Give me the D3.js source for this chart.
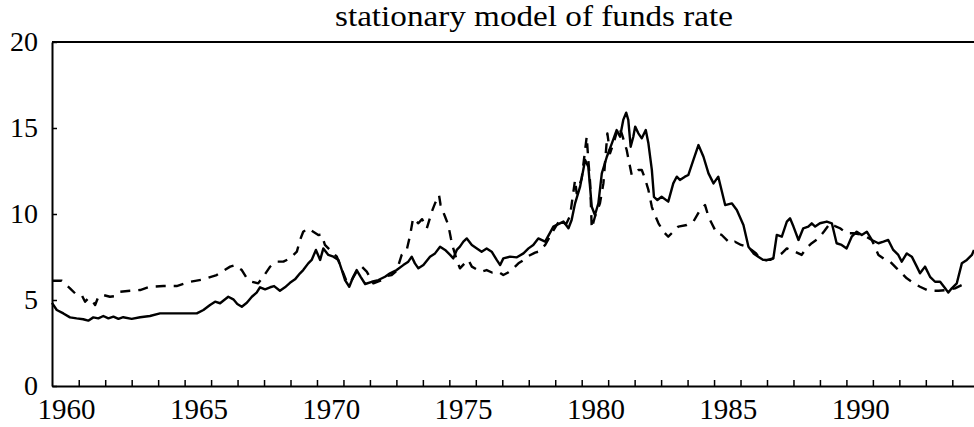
<!DOCTYPE html>
<html>
<head>
<meta charset="utf-8">
<script src="https://cdn.jsdelivr.net/npm/d3@7"></script>
<style>
  body { margin: 0; background: #fff; }
  svg { display: block; }
  svg text { font-family: "Liberation Serif", "Times New Roman", Times, serif; fill: #000; }
</style>
</head>
<body>
<div id="chart"></div>
<script>
const title = "stationary model of funds rate";
const yTicks = [0, 5, 10, 15, 20];
const xLabels = [1960, 1965, 1970, 1975, 1980, 1985, 1990];

// solid line
const actualYears = [1959.47, 1959.65, 1959.90, 1960.15, 1960.40, 1960.65, 1960.84, 1961.03, 1961.22, 1961.41,
  1961.60, 1961.79, 1961.98, 1962.16, 1962.48, 1962.80, 1963.17, 1963.55, 1963.93, 1964.43,
  1964.94, 1965.19, 1965.44, 1965.63, 1965.82, 1966.01, 1966.13, 1966.32, 1966.47, 1966.64,
  1966.83, 1967.02, 1967.20, 1967.33, 1967.52, 1967.71, 1967.86, 1968.08, 1968.27, 1968.46,
  1968.65, 1968.84, 1968.96, 1969.15, 1969.28, 1969.44, 1969.60, 1969.72, 1969.91, 1970.10,
  1970.29, 1970.42, 1970.54, 1970.70, 1970.85, 1970.98, 1971.13, 1971.30, 1971.55, 1971.80,
  1972.05, 1972.24, 1972.49, 1972.74, 1972.93, 1973.06, 1973.18, 1973.31, 1973.50, 1973.75,
  1973.94, 1974.13, 1974.32, 1974.51, 1974.63, 1974.76, 1974.88, 1975.01, 1975.14, 1975.33,
  1975.52, 1975.70, 1975.89, 1976.08, 1976.27, 1976.40, 1976.52, 1976.77, 1977.03, 1977.28,
  1977.47, 1977.65, 1977.84, 1978.10, 1978.41, 1978.79, 1978.98, 1979.10, 1979.23, 1979.42,
  1979.61, 1979.73, 1979.86, 1979.98, 1980.11, 1980.24, 1980.43, 1980.62, 1980.80, 1980.93,
  1981.05, 1981.16, 1981.24, 1981.33, 1981.43, 1981.50, 1981.62, 1981.75, 1981.90, 1982.00,
  1982.13, 1982.21, 1982.34, 1982.50, 1982.75, 1982.94, 1983.07, 1983.19, 1983.38, 1983.51,
  1983.70, 1983.89, 1984.08, 1984.27, 1984.46, 1984.64, 1984.90, 1985.15, 1985.34, 1985.59,
  1985.78, 1985.97, 1986.15, 1986.34, 1986.60, 1986.72, 1986.85, 1987.04, 1987.23, 1987.35,
  1987.48, 1987.67, 1987.85, 1988.04, 1988.17, 1988.30, 1988.48, 1988.74, 1988.93, 1989.11,
  1989.30, 1989.49, 1989.68, 1989.87, 1990.06, 1990.25, 1990.44, 1990.69, 1990.88, 1991.06,
  1991.25, 1991.44, 1991.57, 1991.76, 1991.95, 1992.14, 1992.26, 1992.45, 1992.64, 1992.83,
  1993.02, 1993.21, 1993.33, 1993.46, 1993.65, 1993.84, 1994.03, 1994.22, 1994.30];
const actualRate = [4.83, 4.42, 4.22, 3.99, 3.93, 3.88, 3.80, 3.99, 3.93, 4.07,
  3.93, 4.03, 3.90, 4.00, 3.90, 4.00, 4.07, 4.22, 4.22, 4.22,
  4.22, 4.42, 4.71, 4.90, 4.81, 5.04, 5.19, 5.04, 4.77, 4.61,
  4.84, 5.19, 5.43, 5.74, 5.62, 5.74, 5.81, 5.54, 5.74, 6.00,
  6.20, 6.55, 6.74, 7.13, 7.33, 7.91, 7.33, 8.00, 7.62, 7.52,
  7.33, 6.74, 6.16, 5.77, 6.35, 6.74, 6.35, 5.93, 6.06, 6.16,
  6.35, 6.55, 6.74, 7.03, 7.23, 7.52, 7.13, 6.84, 7.03, 7.52,
  7.71, 8.10, 7.91, 7.62, 7.42, 7.91, 8.10, 8.39, 8.58, 8.20,
  8.00, 7.81, 8.00, 7.81, 7.33, 7.03, 7.42, 7.52, 7.48, 7.71,
  8.00, 8.20, 8.58, 8.39, 9.27, 9.56, 9.17, 9.65, 10.62, 11.59,
  13.14, 12.75, 10.42, 9.94, 10.62, 12.36, 13.33, 14.11, 14.88, 14.49,
  15.47, 15.89, 15.47, 13.91, 14.49, 15.08, 14.69, 14.40, 14.88, 14.11,
  12.56, 11.00, 10.81, 11.00, 10.72, 11.78, 12.17, 11.98, 12.17, 12.27,
  13.14, 14.01, 13.33, 12.36, 11.78, 12.17, 10.52, 10.62, 10.23, 9.36,
  8.10, 7.71, 7.52, 7.33, 7.33, 7.42, 8.78, 8.68, 9.56, 9.75,
  9.27, 8.49, 9.17, 9.27, 9.46, 9.27, 9.46, 9.56, 9.46, 8.30,
  8.20, 8.00, 8.68, 8.97, 8.78, 8.97, 8.49, 8.30, 8.39, 8.49,
  7.91, 7.62, 7.23, 7.71, 7.52, 6.94, 6.55, 6.94, 6.35, 6.06,
  6.06, 5.68, 5.43, 5.68, 5.97, 7.13, 7.33, 7.62, 7.91];

// dashed line
const modelYears = [1959.47, 1959.84, 1960.15, 1960.34, 1960.59, 1960.72, 1960.84, 1960.97, 1961.10, 1961.22,
  1961.41, 1961.66, 1961.85, 1962.04, 1962.42, 1962.80, 1963.17, 1963.68, 1964.18, 1964.68,
  1965.19, 1965.69, 1966.20, 1966.38, 1966.64, 1966.83, 1967.02, 1967.26, 1967.45, 1967.71,
  1967.96, 1968.21, 1968.46, 1968.72, 1968.84, 1968.96, 1969.15, 1969.34, 1969.53, 1969.66,
  1969.78, 1969.97, 1970.23, 1970.35, 1970.48, 1970.62, 1970.77, 1970.96, 1971.17, 1971.36,
  1971.61, 1971.93, 1972.12, 1972.30, 1972.49, 1972.68, 1972.87, 1973.00, 1973.11, 1973.31,
  1973.45, 1973.63, 1973.82, 1973.94, 1974.09, 1974.15, 1974.32, 1974.44, 1974.54, 1974.63,
  1974.76, 1974.88, 1975.04, 1975.20, 1975.33, 1975.49, 1975.70, 1975.89, 1976.09, 1976.33,
  1976.52, 1976.70, 1976.90, 1977.09, 1977.26, 1977.47, 1977.72, 1977.84, 1978.10, 1978.28,
  1978.51, 1978.66, 1978.89, 1979.04, 1979.23, 1979.29, 1979.48, 1979.67, 1979.73, 1979.80,
  1979.86, 1979.98, 1980.17, 1980.30, 1980.45, 1980.55, 1980.68, 1980.87, 1980.99, 1981.18,
  1981.24, 1981.37, 1981.50, 1981.62, 1981.75, 1981.87, 1982.00, 1982.13, 1982.19, 1982.38,
  1982.57, 1982.75, 1982.88, 1983.13, 1983.45, 1983.70, 1983.95, 1984.14, 1984.27, 1984.39,
  1984.58, 1984.77, 1985.08, 1985.27, 1985.50, 1985.72, 1985.90, 1986.07, 1986.22, 1986.45,
  1986.67, 1986.82, 1987.04, 1987.23, 1987.39, 1987.54, 1987.79, 1987.96, 1988.17, 1988.42,
  1988.64, 1988.86, 1989.05, 1989.24, 1989.49, 1989.74, 1990.12, 1990.44, 1990.69, 1990.90,
  1991.13, 1991.38, 1991.54, 1991.76, 1991.95, 1992.26, 1992.58, 1992.96, 1993.27, 1993.58,
  1993.84, 1994.00];
const modelRate = [6.12, 6.12, 5.68, 5.39, 5.29, 4.90, 5.10, 5.00, 4.71, 5.19,
  5.29, 5.19, 5.23, 5.48, 5.54, 5.58, 5.77, 5.81, 5.81, 6.06,
  6.20, 6.45, 6.94, 7.03, 6.74, 6.26, 6.06, 5.97, 6.35, 6.94,
  7.23, 7.23, 7.42, 7.81, 8.49, 8.97, 9.17, 8.97, 8.78, 8.80,
  8.20, 7.91, 7.52, 7.03, 6.55, 6.00, 6.10, 6.60, 6.94, 6.65,
  5.97, 6.16, 6.40, 6.45, 6.70, 7.62, 7.91, 8.78, 9.75, 9.46,
  9.70, 9.17, 10.14, 10.62, 11.10, 10.52, 9.84, 9.36, 8.58, 8.00,
  7.33, 6.84, 7.10, 7.33, 6.94, 6.80, 6.65, 6.74, 6.60, 6.65,
  6.45, 6.60, 6.84, 7.13, 7.30, 7.56, 7.75, 7.81, 8.20, 8.70,
  9.30, 9.65, 9.40, 9.90, 11.98, 11.20, 12.07, 14.50, 13.14, 11.78,
  9.17, 9.84, 10.62, 11.78, 14.69, 13.53, 14.11, 15.08, 14.69, 13.72,
  13.24, 12.27, 12.36, 12.56, 12.56, 12.07, 11.40, 10.42, 10.14, 9.46,
  8.97, 8.68, 8.88, 9.27, 9.36, 9.56, 10.23, 10.52, 9.84, 9.46,
  8.88, 8.78, 8.30, 8.39, 8.20, 8.10, 7.91, 7.70, 7.40, 7.30,
  7.40, 7.50, 7.71, 8.00, 7.90, 7.81, 7.62, 8.00, 8.30, 8.58,
  9.00, 9.46, 9.30, 9.17, 8.88, 8.88, 8.78, 8.49, 7.62, 7.40,
  7.23, 6.84, 6.60, 6.26, 6.06, 5.77, 5.54, 5.54, 5.58, 5.68,
  5.87, 6.16];

const width = 974;
const height = 427;
const margin = { top: 42, right: 0, bottom: 41, left: 52 };

const svg = d3.select("#chart")
  .append("svg")
  .attr("width", width)
  .attr("height", height);

const x = d3.scaleLinear()
  .domain([1959.47, 1994.3])
  .range([margin.left, width - margin.right]);

const y = d3.scaleLinear()
  .domain([0, 20])
  .range([height - margin.bottom, margin.top]);

const line = d3.line()
  .x(d => x(d[0]))
  .y(d => y(d[1]));

// top frame line
svg.append("line")
  .attr("x1", margin.left)
  .attr("x2", width)
  .attr("y1", y(20))
  .attr("y2", y(20))
  .attr("stroke", "#000")
  .attr("stroke-width", 2);

// year ticks on the bottom axis
svg.append("g")
  .attr("transform", `translate(0,${y(0)})`)
  .call(d3.axisBottom(x)
    .tickValues(d3.range(1960, 1995).map(v => v + 0.48))
    .tickSize(-6)
    .tickSizeOuter(0)
    .tickFormat(""))
  .call(g => g.select(".domain").attr("stroke-width", 2))
  .call(g => g.selectAll(".tick line").attr("stroke-width", 1.5));

svg.append("g")
  .attr("transform", `translate(0,${y(0)})`)
  .call(d3.axisBottom(x)
    .tickValues(xLabels)
    .tickSize(0)
    .tickPadding(12)
    .tickFormat(d3.format("d")))
  .attr("font-family", null)
  .attr("font-size", null)
  .call(g => g.select(".domain").remove())
  .call(g => g.selectAll("text")
    .attr("fill", "#000")
    .style("font-size", "29px"));

svg.append("g")
  .attr("transform", `translate(${margin.left},0)`)
  .call(d3.axisLeft(y)
    .tickValues(yTicks)
    .tickSize(-5)
    .tickSizeOuter(0)
    .tickPadding(14))
  .attr("font-family", null)
  .attr("font-size", null)
  .call(g => g.select(".domain").attr("stroke-width", 2))
  .call(g => g.selectAll(".tick line").attr("stroke-width", 1.5))
  .call(g => g.selectAll("text")
    .attr("fill", "#000")
    .style("font-size", "28px"));

svg.append("path")
  .datum(d3.zip(modelYears, modelRate))
  .attr("fill", "none")
  .attr("stroke", "#000")
  .attr("stroke-width", 2.4)
  .attr("stroke-dasharray", "10,8")
  .attr("stroke-linejoin", "round")
  .attr("d", line);

svg.append("path")
  .datum(d3.zip(actualYears, actualRate))
  .attr("fill", "none")
  .attr("stroke", "#000")
  .attr("stroke-width", 2.4)
  .attr("stroke-linejoin", "round")
  .attr("d", line);

svg.append("text")
  .attr("x", 534)
  .attr("y", 26)
  .attr("text-anchor", "middle")
  .attr("textLength", 398)
  .attr("lengthAdjust", "spacingAndGlyphs")
  .style("font-size", "29px")
  .text(title);
</script>
</body>
</html>
